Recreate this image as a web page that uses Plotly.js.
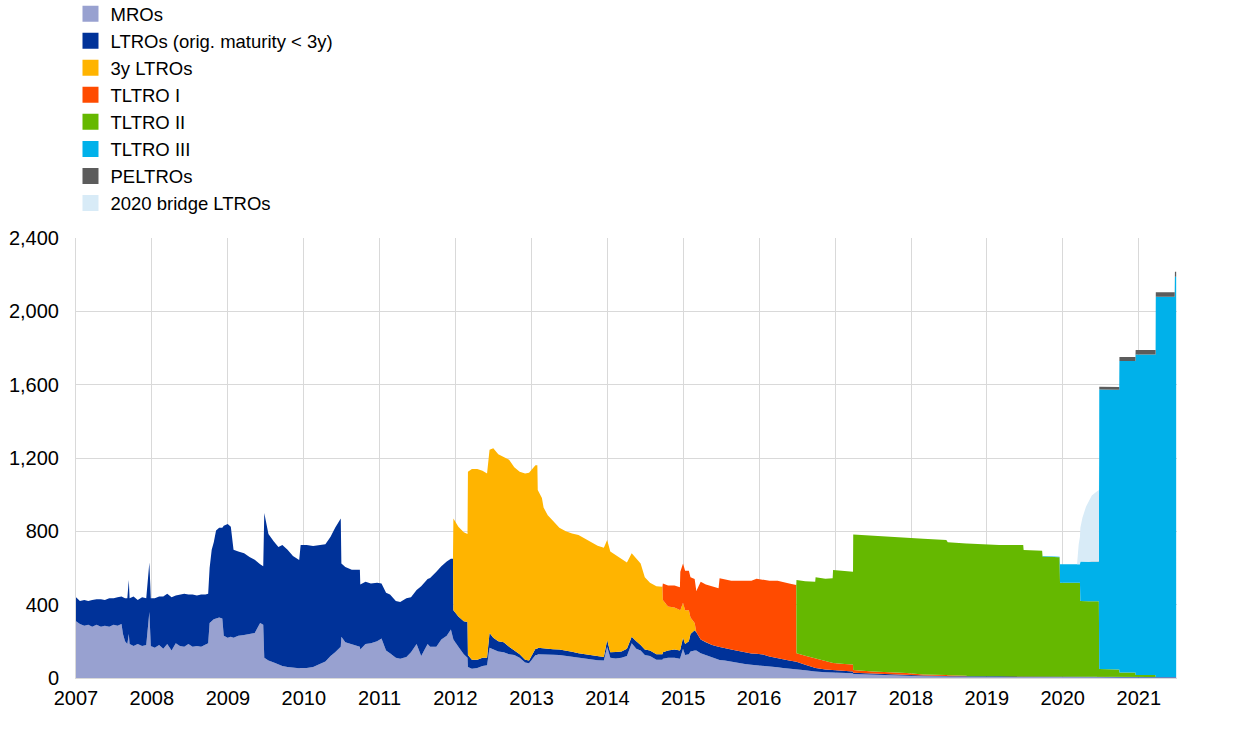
<!DOCTYPE html>
<html>
<head>
<meta charset="utf-8">
<script src="https://cdn.plot.ly/plotly-3.0.1.min.js"></script>
<style>html,body{margin:0;padding:0;background:#fff;}#chart{width:1240px;height:738px;}</style>
</head>
<body>
<div id="chart"></div>
<script>
// Observation dates (shared by all series)
const dates = [
'2007-01-01','2007-01-20','2007-02-10','2007-03-01','2007-03-20','2007-04-10','2007-05-01','2007-05-20','2007-06-10','2007-07-01','2007-07-20','2007-08-08','2007-08-15','2007-08-25','2007-09-05','2007-09-12','2007-09-16','2007-10-05','2007-10-25','2007-11-15','2007-12-05','2007-12-20','2007-12-27',
'2008-01-15','2008-02-05','2008-02-25','2008-03-15','2008-04-05','2008-04-25','2008-05-15','2008-06-05','2008-06-25','2008-07-15','2008-08-05','2008-08-25','2008-09-15','2008-09-28','2008-10-05','2008-10-15','2008-10-25','2008-11-05','2008-11-20','2008-12-05','2008-12-12','2008-12-31',
'2009-01-15','2009-01-28','2009-02-20','2009-03-20','2009-04-15','2009-05-10','2009-06-05','2009-06-20','2009-06-25','2009-07-15','2009-08-10','2009-09-01','2009-09-20','2009-10-15','2009-11-10','2009-12-10','2009-12-17',
'2010-01-15','2010-02-15','2010-03-15','2010-04-15','2010-05-10','2010-06-01','2010-06-28','2010-07-01','2010-07-20','2010-08-20','2010-09-28','2010-09-30','2010-10-25','2010-11-20','2010-12-20',
'2011-01-10','2011-02-01','2011-02-20','2011-03-20','2011-04-10','2011-05-10','2011-06-01','2011-06-28','2011-07-20','2011-08-20','2011-09-01','2011-10-01','2011-10-25','2011-11-20','2011-12-10','2011-12-20','2011-12-22',
'2012-01-15','2012-02-10','2012-02-28','2012-03-01','2012-03-20','2012-04-15','2012-05-10','2012-06-01','2012-06-13','2012-07-01','2012-07-25','2012-08-20','2012-09-15','2012-10-10','2012-11-05','2012-12-01','2012-12-20',
'2013-01-20','2013-01-29','2013-01-31','2013-02-20','2013-02-28','2013-03-20','2013-04-15','2013-05-15','2013-06-15','2013-07-15','2013-08-15','2013-09-15','2013-10-15','2013-11-15','2013-12-15','2013-12-31',
'2014-01-15','2014-02-10','2014-03-10','2014-04-05','2014-04-28','2014-05-20','2014-06-10','2014-06-30','2014-07-25','2014-08-25','2014-09-23','2014-09-25','2014-10-20','2014-11-20','2014-12-16','2014-12-18','2014-12-31',
'2015-01-10','2015-01-28','2015-02-05','2015-02-25','2015-03-05','2015-03-26','2015-04-20','2015-05-20','2015-06-20','2015-06-25','2015-07-20','2015-08-20','2015-09-25','2015-10-25','2015-11-25','2015-12-20',
'2016-01-20','2016-02-20','2016-03-30','2016-04-25','2016-05-25','2016-06-28','2016-06-29','2016-08-10','2016-09-27','2016-09-29','2016-11-15','2016-12-20','2016-12-22',
'2017-02-15','2017-03-28','2017-03-29','2017-07-01','2017-12-10',
'2018-03-01','2018-06-20','2018-06-27','2018-09-25','2018-09-27',
'2019-03-01','2019-06-25','2019-06-27','2019-09-24','2019-09-26','2019-12-17','2019-12-19',
'2020-03-10','2020-03-18','2020-03-24','2020-03-26','2020-04-05','2020-04-22','2020-05-05','2020-05-20','2020-06-10','2020-06-23','2020-06-25','2020-09-29','2020-09-30','2020-12-16','2020-12-17',
'2021-03-23','2021-03-24','2021-06-23','2021-06-24','2021-06-30'
];

// EUR billions
const mros = [
310,295,285,290,280,290,280,285,280,290,285,295,240,200,185,240,185,175,185,175,180,360,175,
165,180,160,185,150,190,175,170,185,170,175,170,180,190,300,310,320,325,330,325,230,220,
225,220,230,235,240,245,300,290,110,95,85,75,65,60,55,53,55,
55,60,75,90,120,140,170,225,195,185,170,155,185,190,200,
215,150,135,110,105,115,140,185,120,185,170,170,210,230,265,230,210,
170,130,110,60,50,55,65,70,165,155,145,140,130,125,110,85,80,
125,125,130,130,130,128,127,125,120,115,110,105,100,97,95,170,
110,107,110,120,189,160,150,125,120,100,100,105,110,110,105,110,160,
125,130,145,150,150,135,125,110,98,98,95,88,82,76,72,70,
66,62,58,55,52,50,48,42,36,36,32,30,30,
27,26,22,18,14,
10,8,8,6,6,
6,6,6,6,5,5,5,
5,5,5,5,4,4,4,4,4,4,4,3,3,3,3,
3,3,3,3,3
];

const ltros = [
130,125,140,130,145,140,150,140,155,145,155,150,200,235,250,295,250,270,240,265,255,270,260,
270,265,285,275,290,260,280,290,270,285,275,285,275,270,300,390,420,480,490,495,600,620,
600,480,460,445,420,400,320,320,790,690,660,640,660,640,610,590,670,
670,660,650,640,650,680,700,400,410,405,420,355,340,325,320,
300,315,320,310,310,320,300,295,380,355,375,410,400,405,385,420,160,
165,180,195,65,50,45,45,40,80,65,55,55,40,25,20,15,15,
35,35,35,32,30,30,30,30,30,28,25,25,22,20,20,37,
30,35,35,40,36,40,30,30,30,30,30,35,40,45,45,45,60,
60,70,95,110,100,75,70,70,73,72,68,68,65,64,62,62,
62,55,52,47,43,40,40,30,18,18,15,14,14,
10,9,6,5,4,
3,3,3,3,3,
3,3,3,3,3,3,3,
3,3,3,3,3,3,3,3,3,3,3,2,2,2,2,
2,2,2,2,2
];

const ltros3y = [
0,0,0,0,0,0,0,0,0,0,0,0,0,0,0,0,0,0,0,0,0,0,0,
0,0,0,0,0,0,0,0,0,0,0,0,0,0,0,0,0,0,0,0,0,0,
0,0,0,0,0,0,0,0,0,0,0,0,0,0,0,0,0,
0,0,0,0,0,0,0,0,0,0,0,0,0,0,0,
0,0,0,0,0,0,0,0,0,0,0,0,0,0,0,0,500,
490,485,480,1000,1040,1040,1020,1005,1000,1033,1020,1010,1020,1000,995,1015,1025,
1000,1000,860,820,770,730,700,665,650,645,645,630,618,605,595,546,
550,528,505,470,455,450,445,395,370,370,368,285,240,230,225,215,190,
185,170,90,40,0,0,0,0,0,0,0,0,0,0,0,0,
0,0,0,0,0,0,0,0,0,0,0,0,0,
0,0,0,0,0,
0,0,0,0,0,
0,0,0,0,0,0,0,
0,0,0,0,0,0,0,0,0,0,0,0,0,0,0,
0,0,0,0,0
];

const tltro1 = [
0,0,0,0,0,0,0,0,0,0,0,0,0,0,0,0,0,0,0,0,0,0,0,
0,0,0,0,0,0,0,0,0,0,0,0,0,0,0,0,0,0,0,0,0,0,
0,0,0,0,0,0,0,0,0,0,0,0,0,0,0,0,0,
0,0,0,0,0,0,0,0,0,0,0,0,0,0,0,
0,0,0,0,0,0,0,0,0,0,0,0,0,0,0,0,0,
0,0,0,0,0,0,0,0,0,0,0,0,0,0,0,0,0,
0,0,0,0,0,0,0,0,0,0,0,0,0,0,0,0,
0,0,0,0,0,0,0,0,0,0,0,91,115,120,120,210,215,
215,215,220,240,225,315,315,320,318,374,375,375,383,390,396,410,
408,413,420,420,420,417,47,50,54,54,45,38,38,
40,38,16,12,9,
6,5,4,3,0,
0,0,0,0,0,0,0,
0,0,0,0,0,0,0,0,0,0,0,0,0,0,0,
0,0,0,0,0
];

const tltro2 = [
0,0,0,0,0,0,0,0,0,0,0,0,0,0,0,0,0,0,0,0,0,0,0,
0,0,0,0,0,0,0,0,0,0,0,0,0,0,0,0,0,0,0,0,0,0,
0,0,0,0,0,0,0,0,0,0,0,0,0,0,0,0,0,
0,0,0,0,0,0,0,0,0,0,0,0,0,0,0,
0,0,0,0,0,0,0,0,0,0,0,0,0,0,0,0,0,
0,0,0,0,0,0,0,0,0,0,0,0,0,0,0,0,0,
0,0,0,0,0,0,0,0,0,0,0,0,0,0,0,0,
0,0,0,0,0,0,0,0,0,0,0,0,0,0,0,0,0,
0,0,0,0,0,0,0,0,0,0,0,0,0,0,0,0,
0,0,0,0,0,0,400,406,417,441,450,462,507,
507,507,739,741,735,
740,737,725,722,725,
717,716,689,685,655,650,512,
512,512,512,412,412,412,412,412,412,412,42,42,25,25,11,
11,0,0,0,0
];

const tltro3 = [
0,0,0,0,0,0,0,0,0,0,0,0,0,0,0,0,0,0,0,0,0,0,0,
0,0,0,0,0,0,0,0,0,0,0,0,0,0,0,0,0,0,0,0,0,0,
0,0,0,0,0,0,0,0,0,0,0,0,0,0,0,0,0,
0,0,0,0,0,0,0,0,0,0,0,0,0,0,0,
0,0,0,0,0,0,0,0,0,0,0,0,0,0,0,0,0,
0,0,0,0,0,0,0,0,0,0,0,0,0,0,0,0,0,
0,0,0,0,0,0,0,0,0,0,0,0,0,0,0,0,
0,0,0,0,0,0,0,0,0,0,0,0,0,0,0,0,0,
0,0,0,0,0,0,0,0,0,0,0,0,0,0,0,0,
0,0,0,0,0,0,0,0,0,0,0,0,0,
0,0,0,0,0,
0,0,0,0,0,
0,0,0,0,3,3,100,
100,100,100,215,215,215,215,215,215,215,1525,1525,1699,1699,1749,
1749,2075,2075,2184,2184
];

const peltros = [
0,0,0,0,0,0,0,0,0,0,0,0,0,0,0,0,0,0,0,0,0,0,0,
0,0,0,0,0,0,0,0,0,0,0,0,0,0,0,0,0,0,0,0,0,0,
0,0,0,0,0,0,0,0,0,0,0,0,0,0,0,0,0,
0,0,0,0,0,0,0,0,0,0,0,0,0,0,0,
0,0,0,0,0,0,0,0,0,0,0,0,0,0,0,0,0,
0,0,0,0,0,0,0,0,0,0,0,0,0,0,0,0,0,
0,0,0,0,0,0,0,0,0,0,0,0,0,0,0,0,
0,0,0,0,0,0,0,0,0,0,0,0,0,0,0,0,0,
0,0,0,0,0,0,0,0,0,0,0,0,0,0,0,0,
0,0,0,0,0,0,0,0,0,0,0,0,0,
0,0,0,0,0,
0,0,0,0,0,
0,0,0,0,0,0,0,
0,0,0,0,0,0,0,1,1,1,15,15,22,22,24,
24,24,24,27,27
];

const bridge2020 = [
0,0,0,0,0,0,0,0,0,0,0,0,0,0,0,0,0,0,0,0,0,0,0,
0,0,0,0,0,0,0,0,0,0,0,0,0,0,0,0,0,0,0,0,0,0,
0,0,0,0,0,0,0,0,0,0,0,0,0,0,0,0,0,
0,0,0,0,0,0,0,0,0,0,0,0,0,0,0,
0,0,0,0,0,0,0,0,0,0,0,0,0,0,0,0,0,
0,0,0,0,0,0,0,0,0,0,0,0,0,0,0,0,0,
0,0,0,0,0,0,0,0,0,0,0,0,0,0,0,0,
0,0,0,0,0,0,0,0,0,0,0,0,0,0,0,0,0,
0,0,0,0,0,0,0,0,0,0,0,0,0,0,0,0,
0,0,0,0,0,0,0,0,0,0,0,0,0,
0,0,0,0,0,
0,0,0,0,0,
0,0,0,0,0,0,0,
0,110,150,185,240,300,325,360,380,390,0,0,0,0,0,
0,0,0,0,0
];

const seriesNames = ['MROs','LTROs (orig. maturity < 3y)','3y LTROs','TLTRO I','TLTRO II','TLTRO III','PELTROs','2020 bridge LTROs'];
const seriesColors = ['#98a1d0','#003299','#ffb400','#ff4b00','#65b800','#00b1ea','#5c5c5c','#d8ebf7'];
const seriesValues = [mros, ltros, ltros3y, tltro1, tltro2, tltro3, peltros, bridge2020];

const traces = [];
seriesValues.forEach((vals, i) => {
  traces.push({
    x: dates, y: vals, type: 'scatter', mode: 'lines', stackgroup: 'one',
    line: {width: 0, color: seriesColors[i]}, fillcolor: seriesColors[i],
    name: seriesNames[i], showlegend: false, hoverinfo: 'x+y+name'
  });
});
// legend entries (square swatches)
seriesNames.forEach((n, i) => {
  traces.push({
    x: [null], y: [null], type: 'scatter', mode: 'markers', name: n,
    marker: {symbol: 'square', size: 16, color: seriesColors[i]},
    showlegend: true, hoverinfo: 'skip'
  });
});

const layout = {
  width: 1240, height: 738,
  margin: {l: 76, r: 63, t: 238, b: 60, autoexpand: false},
  paper_bgcolor: '#ffffff', plot_bgcolor: '#ffffff',
  font: {family: 'Arial, "Liberation Sans", sans-serif', size: 20, color: '#000000'},
  xaxis: {
    type: 'date', range: ['2007-01-01', '2021-07-04'],
    tickformat: '%Y', dtick: 'M12', tick0: '2007-01-01',
    showgrid: true, gridcolor: '#d9d9d9', gridwidth: 1,
    showline: true, linecolor: '#d9d9d9', linewidth: 1,
    ticks: '', zeroline: false, tickfont: {size: 20}, ticklabelstandoff: 2
  },
  yaxis: {
    range: [0, 2400], dtick: 400, tick0: 0, tickformat: ',d',
    showgrid: true, gridcolor: '#d9d9d9', gridwidth: 1,
    showline: true, linecolor: '#d9d9d9', linewidth: 1,
    ticks: '', zeroline: false, tickfont: {size: 20}, ticklabelstandoff: 12
  },
  legend: {
    x: -0.005, xanchor: 'left', y: 1.552, yanchor: 'top',
    font: {size: 18.5}, bgcolor: 'rgba(0,0,0,0)', borderwidth: 0,
    traceorder: 'normal'
  },
  showlegend: true
};

Plotly.newPlot('chart', traces, layout, {displayModeBar: false, staticPlot: true});
</script>
</body>
</html>
